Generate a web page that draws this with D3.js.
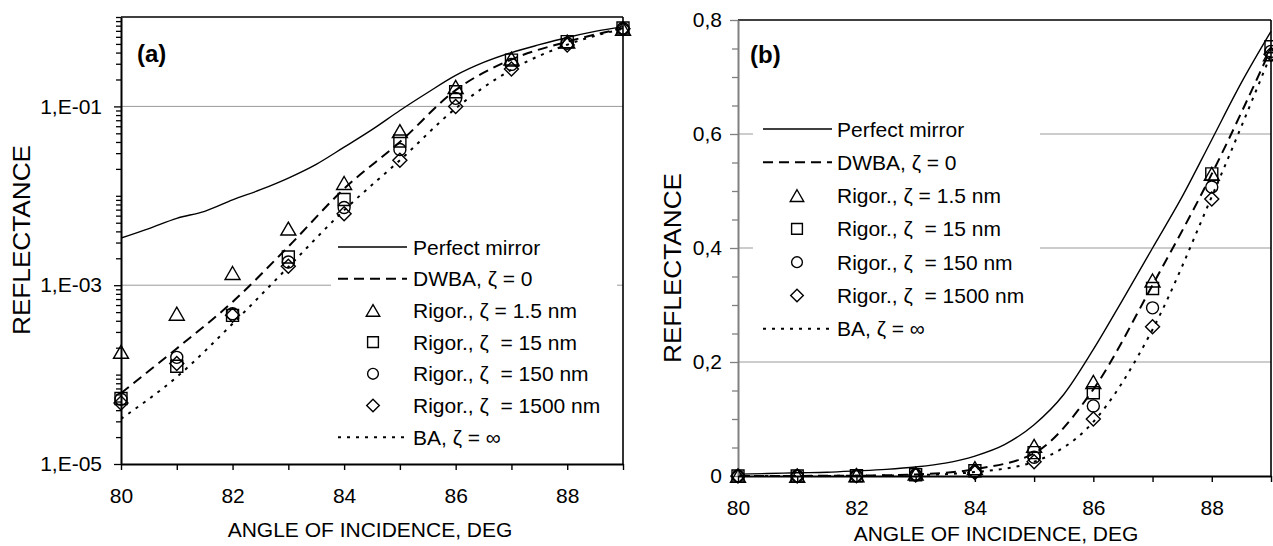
<!DOCTYPE html>
<html><head><meta charset="utf-8">
<script src="https://cdn.jsdelivr.net/npm/d3@7"></script>
<style>
body{margin:0;background:#fff;}
svg text{font-family:"Liberation Sans",Arial,sans-serif;fill:#000;}
</style></head><body>
<svg id="c" width="1273" height="546"></svg>
<script>
// ---------------- data ----------------
const angles = [80, 81, 82, 83, 84, 85, 86, 87, 88, 89];
const mirrorAngles = [80, 80.5, 81, 81.5, 82, 82.5, 83, 83.5, 84, 84.5, 85, 85.5, 86, 86.5, 87, 87.5, 88, 88.5, 89];
const perfectMirror = [0.00337, 0.0043, 0.0056, 0.0067, 0.0090, 0.0117, 0.0158, 0.0225, 0.035, 0.055, 0.090, 0.143, 0.222, 0.31, 0.40, 0.49, 0.59, 0.69, 0.78];
const dwba = [6.2e-5, 1.96e-4, 6.5e-4, 2.7e-3, 1.2e-2, 0.040, 0.152, 0.335, 0.53, 0.75];
const ba = [3.2e-5, 9.4e-5, 3.7e-4, 1.6e-3, 6.9e-3, 0.025, 0.095, 0.257, 0.49, 0.74];
const rigor1p5 = [1.8e-4, 4.8e-4, 1.37e-3, 4.3e-3, 1.39e-2, 0.053, 0.165, 0.343, 0.53, 0.74];
const rigor15 = [5.4e-5, 1.24e-4, 4.6e-4, 2.07e-3, 9.1e-3, 0.041, 0.146, 0.329, 0.53, 0.753];
const rigor150 = [5.3e-5, 1.56e-4, 4.8e-4, 1.82e-3, 7.4e-3, 0.033, 0.123, 0.295, 0.507, 0.745];
const rigor1500 = [4.8e-5, 1.33e-4, 4.6e-4, 1.63e-3, 6.3e-3, 0.025, 0.100, 0.262, 0.486, 0.74];
const legendLabels = ["Perfect mirror", "DWBA, ζ = 0", "Rigor., ζ = 1.5 nm", "Rigor., ζ  = 15 nm", "Rigor., ζ  = 150 nm", "Rigor., ζ  = 1500 nm", "BA, ζ = ∞"];
const xTicks = [80, 81, 82, 83, 84, 85, 86, 87, 88, 89];
const logTickLabels = ["1,E-05", "1,E-03", "1,E-01"];
const linTickLabels = ["0", "0,2", "0,4", "0,6", "0,8"];
const xTitle = "ANGLE OF INCIDENCE, DEG";
const yTitle = "REFLECTANCE";

// ---------------- helpers ----------------
const svg = d3.select("#c");
const FS = 21;

function markerPath(type, k) {
  k = k || 1;
  if (type === "tri") return `M0,${-6.5*k}L${7.5*k},${6.5*k}L${-7.5*k},${6.5*k}Z`;
  if (type === "sq") return `M${-6*k},${-6*k}h${12*k}v${12*k}h${-12*k}Z`;
  if (type === "circ") { const r = 6*k; return `M${r},0A${r},${r} 0 1,1 ${-r},0A${r},${r} 0 1,1 ${r},0Z`; }
  return `M0,${-7*k}L${7*k},0L0,${7*k}L${-7*k},0Z`;
}

const lineSeries = [
  {name: legendLabels[0], xs: mirrorAngles, ys: perfectMirror, dash: null, w: 1.4},
  {name: legendLabels[1], xs: angles, ys: dwba, dash: "10,6", w: 2},
  {name: legendLabels[6], xs: angles, ys: ba, dash: "3,6", w: 2}
];
const markerSeries = [
  {name: legendLabels[2], ys: rigor1p5, type: "tri"},
  {name: legendLabels[3], ys: rigor15, type: "sq"},
  {name: legendLabels[4], ys: rigor150, type: "circ"},
  {name: legendLabels[5], ys: rigor1500, type: "dia"}
];
const legendOrder = [
  {kind: "line", s: lineSeries[0]},
  {kind: "line", s: lineSeries[1]},
  {kind: "mark", s: markerSeries[0]},
  {kind: "mark", s: markerSeries[1]},
  {kind: "mark", s: markerSeries[2]},
  {kind: "mark", s: markerSeries[3]},
  {kind: "line", s: lineSeries[2]}
];

function drawPanel(o) {
  const g = svg.append("g");
  const x = o.x, y = o.y;
  const [x0, x1] = x.range();
  const [yb, yt] = y.range();
  const clipId = "clip" + o.id;
  svg.append("defs").append("clipPath").attr("id", clipId)
    .append("rect").attr("x", x0).attr("y", yt - 10).attr("width", x1 - x0 + 2).attr("height", yb - yt + 12);

  // gridlines
  g.selectAll(".grid").data(o.grid).enter().append("line")
    .attr("x1", x0).attr("x2", x1).attr("y1", d => y(d)).attr("y2", d => y(d))
    .attr("stroke", "#9a9a9a").attr("stroke-width", 1);

  // legend background
  g.append("rect").attr("x", o.lg.bx).attr("y", o.lg.by).attr("width", o.lg.bw).attr("height", o.lg.bh).attr("fill", "#fff");

  const data = g.append("g").attr("clip-path", `url(#${clipId})`);
  lineSeries.forEach(s => {
    const pts = s.xs.map((a, i) => [x(a), y(s.ys[i])]);
    data.append("path").attr("d", d3.line().curve(d3.curveMonotoneX)(pts))
      .attr("fill", "none").attr("stroke", "#000").attr("stroke-width", s.w)
      .attr("stroke-dasharray", s.dash);
  });

  // border top/right
  g.append("line").attr("x1", x0).attr("x2", x1).attr("y1", yt).attr("y2", yt).attr("stroke", "#000").attr("stroke-width", 1.6);
  g.append("line").attr("x1", x1).attr("x2", x1).attr("y1", yt).attr("y2", yb).attr("stroke", "#000").attr("stroke-width", 1.6);

  // y axis
  const ya = g.append("g").attr("transform", `translate(${x0},0)`)
    .call(d3.axisLeft(y).tickValues(o.yTicks).tickSizeInner(o.yMajor).tickSizeOuter(0).tickPadding(o.yPad).tickFormat(o.yFmt));
  ya.select(".domain").attr("stroke", o.yColor).attr("stroke-width", 2);
  ya.selectAll(".tick line").attr("stroke", o.yColor).attr("stroke-width", 1.3)
    .attr("x2", d => o.isMajor(d) ? -o.yMajor : -o.yMinor);
  ya.selectAll(".tick text").attr("font-size", FS).attr("font-family", "Liberation Sans, Arial, sans-serif").attr("fill", "#000");

  // x axis
  const xa = g.append("g").attr("transform", `translate(0,${yb})`)
    .call(d3.axisBottom(x).tickValues(xTicks).tickSizeInner(6).tickSizeOuter(0).tickPadding(18).tickFormat(d => d % 2 === 0 ? d : ""));
  xa.select(".domain").attr("stroke", "#000").attr("stroke-width", 2);
  xa.selectAll(".tick line").attr("stroke", "#000").attr("stroke-width", 1.4);
  xa.selectAll(".tick text").attr("font-size", FS).attr("font-family", "Liberation Sans, Arial, sans-serif").attr("fill", "#000");

  // markers (not clipped, drawn on top of axes like the original)
  const mk = g.append("g");
  markerSeries.forEach(s => {
    mk.selectAll(null).data(angles).enter().append("path")
      .attr("transform", (a, i) => `translate(${x(a)},${y(s.ys[i])})`)
      .attr("d", markerPath(s.type))
      .attr("fill", "none").attr("stroke", "#000").attr("stroke-width", 1.4);
  });

  // titles
  g.append("text").attr("x", o.xtX).attr("y", o.xtY).attr("text-anchor", "middle").attr("font-size", FS).text(xTitle);
  g.append("text").attr("transform", `translate(${o.ytX},${o.ytY}) rotate(-90)`).attr("text-anchor", "middle")
    .attr("font-size", 23).attr("textLength", 190).attr("lengthAdjust", "spacingAndGlyphs").text(yTitle);
  g.append("text").attr("x", o.lbX).attr("y", o.lbY).attr("font-size", 24).attr("font-weight", "bold").text(o.label);

  // legend
  const L = o.lg;
  legendOrder.forEach((e, i) => {
    const cy = L.y0 + i * L.dy;
    if (e.kind === "line") {
      g.append("line").attr("x1", L.lx0).attr("x2", L.lx1).attr("y1", cy).attr("y2", cy)
        .attr("stroke", "#000").attr("stroke-width", e.s.w).attr("stroke-dasharray", e.s.dash);
    } else {
      g.append("path").attr("transform", `translate(${L.sx},${cy})`).attr("d", markerPath(e.s.type, 0.9))
        .attr("fill", "none").attr("stroke", "#000").attr("stroke-width", 1.4);
    }
    g.append("text").attr("x", L.tx).attr("y", cy).attr("dy", "0.36em").attr("font-size", FS)
      .style("white-space", "pre").text(e.s.name);
  });
}

// ---------------- panel (a): log ----------------
const logTicks = [];
for (let k = -5; k < 0; k++) for (let m = 1; m < 10; m++) logTicks.push(m * Math.pow(10, k));
logTicks.push(1);
const logLabelVals = [1e-5, 1e-3, 1e-1];
drawPanel({
  id: "a", label: "(a)",
  x: d3.scaleLinear().domain([80, 89]).range([121, 623]),
  y: d3.scaleLog().domain([1e-5, 1]).range([464, 17]),
  grid: [1e-3, 1e-1],
  yTicks: logTicks, yMajor: 7, yMinor: 5, yPad: 12, yColor: "#000",
  isMajor: d => logLabelVals.some(v => Math.abs(v - d) / v < 1e-6),
  yFmt: d => { const idx = logLabelVals.findIndex(v => Math.abs(v - d) / v < 1e-6); return idx >= 0 ? logTickLabels[idx] : ""; },
  xtX: 370, xtY: 537, ytX: 30, ytY: 240, lbX: 137, lbY: 62,
  lg: {bx: 331, by: 228, bw: 286, bh: 225, y0: 247, dy: 31.7, lx0: 338, lx1: 407, sx: 373, tx: 413}
});

// ---------------- panel (b): linear ----------------
const linTicks = d3.range(0, 17).map(i => i * 0.05);
drawPanel({
  id: "b", label: "(b)",
  x: d3.scaleLinear().domain([80, 89]).range([738, 1271]),
  y: d3.scaleLinear().domain([0, 0.8]).range([476, 20]),
  grid: [0.2, 0.4, 0.6],
  yTicks: linTicks, yMajor: 8, yMinor: 6, yPad: 8, yColor: "#808080",
  isMajor: d => Math.abs(d * 5 - Math.round(d * 5)) < 1e-6,
  yFmt: d => { const r = d * 5; return Math.abs(r - Math.round(r)) < 1e-6 ? linTickLabels[Math.round(r)] : ""; },
  xtX: 996, xtY: 541, ytX: 681, ytY: 268, lbX: 750, lbY: 63,
  lg: {bx: 753, by: 110, bw: 287, bh: 236, y0: 129, dy: 33.3, lx0: 763, lx1: 832, sx: 797, tx: 837}
});
</script>
</body></html>
